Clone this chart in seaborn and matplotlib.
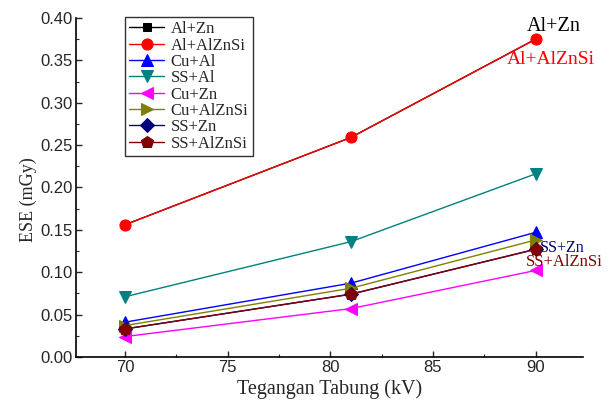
import matplotlib
matplotlib.use("Agg")
import matplotlib.pyplot as plt
import seaborn as sns
import pandas as pd
from matplotlib.ticker import MultipleLocator

kv = [70, 81, 90]
series_names = ["Al+Zn", "Al+AlZnSi", "Cu+Al", "SS+Al", "Cu+Zn", "Cu+AlZnSi", "SS+Zn", "SS+AlZnSi"]
al_zn = [0.156, 0.259, 0.375]
al_alznsi = [0.156, 0.259, 0.375]
cu_al = [0.041, 0.087, 0.147]
ss_al = [0.071, 0.136, 0.216]
cu_zn = [0.024, 0.057, 0.102]
cu_alznsi = [0.037, 0.081, 0.138]
ss_zn = [0.033, 0.074, 0.127]
ss_alznsi = [0.033, 0.074, 0.127]
values = [al_zn, al_alznsi, cu_al, ss_al, cu_zn, cu_alznsi, ss_zn, ss_alznsi]
y_ticks = [0.0, 0.05, 0.10, 0.15, 0.20, 0.25, 0.30, 0.35, 0.40]
y_tick_labels = ["0.00", "0.05", "0.10", "0.15", "0.20", "0.25", "0.30", "0.35", "0.40"]

colors = ["#000000", "#ff0000", "#0000ff", "#008080", "#ff00ff", "#808000", "#000080", "#800000"]
markers = ["s", "o", "^", "v", "<", ">", "D", "p"]
msizes = [5.5, 8, 9, 9, 9, 9, 7.5, 9]

rows = []
for name, vals in zip(series_names, values):
    for x, v in zip(kv, vals):
        rows.append({"kV": x, "ESE": v, "Filter": name})
df = pd.DataFrame(rows)

sns.set_style("white")
plt.rcParams["font.family"] = ["Liberation Serif", "DejaVu Serif"]

fig = plt.figure(figsize=(6.16, 4.01), dpi=100)
ax = fig.add_axes([0.123, 0.11, 0.823, 0.845])

for name, c, m, ms in zip(series_names, colors, markers, msizes):
    sub = df[df["Filter"] == name]
    sns.lineplot(data=sub, x="kV", y="ESE", ax=ax, color=c, marker=m, markersize=ms,
                 markeredgecolor=c, linewidth=1.0, label=name)

ax.set_xlim(67.6, 92.3)
ax.set_ylim(0, 0.40)
ax.xaxis.set_major_locator(MultipleLocator(5))
ax.xaxis.set_minor_locator(MultipleLocator(2.5))
ax.yaxis.set_minor_locator(MultipleLocator(0.025))
ax.set_yticks(y_ticks)
ax.set_yticklabels(y_tick_labels)
for lab in ax.get_xticklabels() + ax.get_yticklabels():
    lab.set_family("Liberation Sans")
    lab.set_fontsize(12)
ax.tick_params(which="major", direction="in", length=4, width=1, bottom=True, left=True, pad=2)
ax.tick_params(which="minor", direction="in", length=2.5, width=0.8, bottom=True, left=True)

for s in ["top", "right"]:
    ax.spines[s].set_visible(False)
for s in ["left", "bottom"]:
    ax.spines[s].set_color("black")
    ax.spines[s].set_linewidth(1.2)

ax.set_xlabel("Tegangan Tabung (kV)", fontsize=14.5, labelpad=3)
ax.set_ylabel("ESE (mGy)", fontsize=13)
ax.yaxis.set_label_coords(-0.077, 0.463)

leg = ax.legend(loc="upper left", bbox_to_anchor=(0.097, 1.003), frameon=True, fancybox=False,
                edgecolor="black", fontsize=12, handlelength=2.1, borderpad=0.25,
                labelspacing=0.02, handletextpad=0.4, borderaxespad=0)
leg.get_frame().set_linewidth(1.0)

ax.text(90.9, 0.390, "Al+Zn", color="black", fontsize=14.5, ha="center", va="center")
ax.text(90.73, 0.351, "Al+AlZnSi", color="#ff0000", fontsize=14, ha="center", va="center")
ax.text(90.2, 0.1285, "SS+Zn", color="#000080", fontsize=11.5, ha="left", va="center")
ax.text(91.4, 0.1115, "SS+AlZnSi", color="#800000", fontsize=12, ha="center", va="center")

fig.savefig("out.png", dpi=100)
